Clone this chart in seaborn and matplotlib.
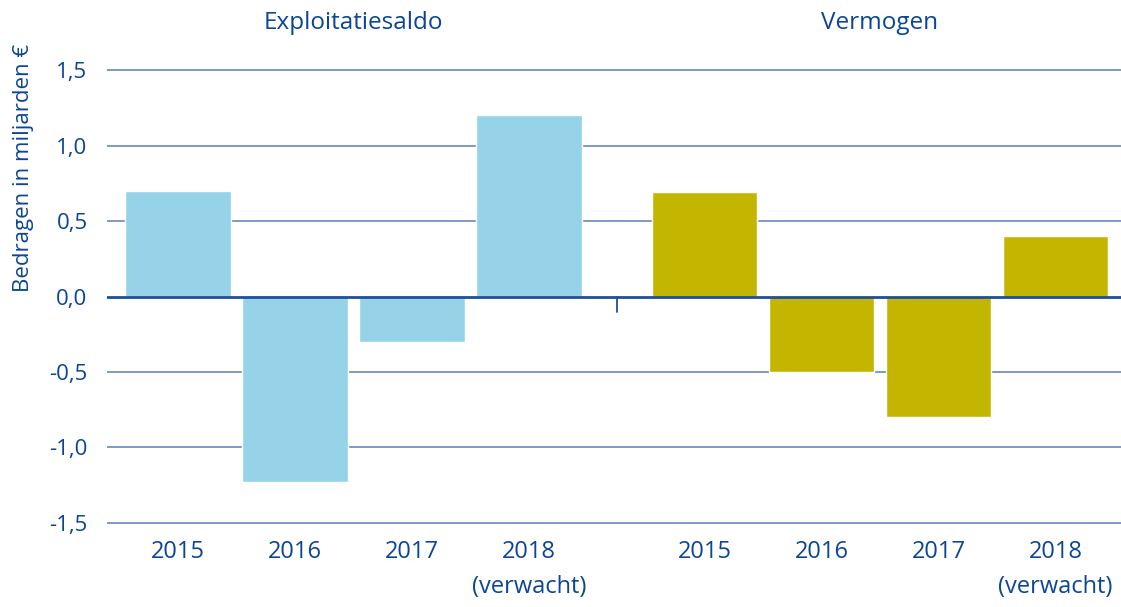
import numpy as np
import pandas as pd
import matplotlib
matplotlib.use('Agg')
import matplotlib.pyplot as plt
import seaborn as sns

# data
groups = ['Exploitatiesaldo', 'Vermogen']
years = ['2015', '2016', '2017', '2018\n(verwacht)']
exploitatiesaldo = [0.70, -1.23, -0.30, 1.20]
vermogen = [0.69, -0.50, -0.80, 0.40]
yticks = [-1.5, -1.0, -0.5, 0.0, 0.5, 1.0, 1.5]

TEXT = '#0b4595'
GRID = '#7391c4'
ZERO = '#1f4e9c'
COLORS = {'Exploitatiesaldo': '#96d3e8', 'Vermogen': '#c4b600'}
GAP = 1.5  # distance between last bar of group 1 and first of group 2

sns.set_style('white')
plt.rcParams['font.family'] = ['Open Sans', 'DejaVu Sans']

pos = []
rows = []
for gi, (g, vals) in enumerate(zip(groups, [exploitatiesaldo, vermogen])):
    for i, (yr, v) in enumerate(zip(years, vals)):
        x = i + gi * (len(years) - 1 + GAP)
        pos.append(x)
        rows.append({'x': x, 'value': v, 'group': g, 'year': yr})
df = pd.DataFrame(rows)

fig = plt.figure(figsize=(11.21, 6.07), dpi=100)
ax = fig.add_axes([107 / 1121, 0.126, 1 - 107 / 1121, 0.771])

for y in yticks:
    if y == 0:
        continue
    ax.axhline(y, color=GRID, lw=1.3, zorder=0)

sns.barplot(data=df, x='x', y='value', hue='group', palette=COLORS,
            native_scale=True, dodge=False, width=0.9, saturation=1,
            legend=False, ax=ax, zorder=2)

ax.axhline(0, color=ZERO, lw=2, zorder=3)
mid = (pos[3] + pos[4]) / 2
ax.plot([mid, mid], [0, -0.105], color=ZERO, lw=1.3, zorder=3)

ax.set_xlim(-0.607, 8.06)
ax.set_ylim(-1.55, 1.55)
ax.set_yticks(yticks)
ax.set_yticklabels([('%.1f' % t).replace('.', ',') for t in yticks],
                   color=TEXT, fontsize=16)
ax.tick_params(axis='y', length=0, pad=14)
ax.set_xticks(pos)
ax.set_xticklabels(years * 2, color=TEXT, fontsize=17, linespacing=1.6)
ax.tick_params(axis='x', length=0, pad=7)
for lbl in ax.get_xticklabels():
    lbl.set_verticalalignment('top')
for s in ax.spines.values():
    s.set_visible(False)
ax.set_xlabel('')
ax.set_ylabel('Bedragen in miljarden €', color=TEXT, fontsize=16)
ax.yaxis.set_label_coords(-0.072, 0.775)

for gi, g in enumerate(groups):
    cx = np.mean(pos[gi * 4:(gi + 1) * 4])
    ax.text(cx, 1.81, g, ha='center', va='center',
            color=TEXT, fontsize=17.5)

fig.savefig('out.png', dpi=100)
